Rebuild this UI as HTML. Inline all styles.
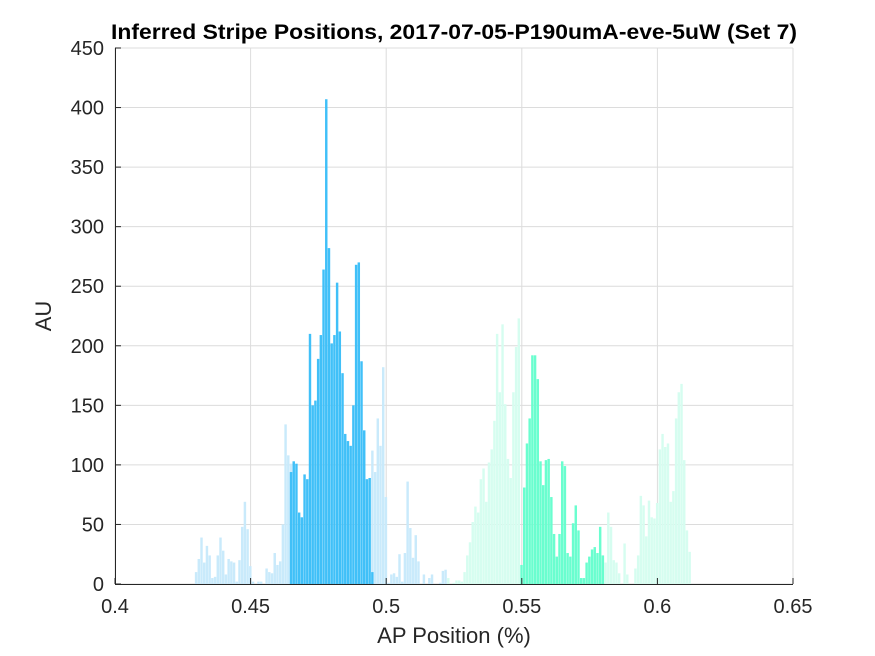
<!DOCTYPE html>
<html><head><meta charset="utf-8"><style>
html,body{margin:0;padding:0;background:#fff;}
svg{display:block;font-family:"Liberation Sans",Arial,sans-serif;}
</style></head><body>
<svg id="chart" width="875" height="656" viewBox="0 0 875 656">
<rect width="875" height="656" fill="#fff"/>
<g id="grid"></g>
<g id="bars"></g>
<g id="axes"></g>
<text x="454" y="39" text-anchor="middle" font-size="21" font-weight="bold" fill="#000" textLength="686" lengthAdjust="spacingAndGlyphs">Inferred Stripe Positions, 2017-07-05-P190umA-eve-5uW (Set 7)</text>
<text x="454" y="643" text-anchor="middle" font-size="22" fill="#262626">AP Position (%)</text>
<text transform="translate(51,316) rotate(-90)" text-anchor="middle" font-size="22" fill="#262626">AU</text>
</svg>
<script>
const xTicks = [0.4, 0.45, 0.5, 0.55, 0.6, 0.65];
const xTickLabels = ["0.4", "0.45", "0.5", "0.55", "0.6", "0.65"];
const yTicks = [0, 50, 100, 150, 200, 250, 300, 350, 400, 450];
const binWidth = 0.001;
const blueLightStart = 0.4299;
const blueLightValues = [10,21,39,18,32,24,5,6,24,39,28,8,21,19,18,2,20,48,69,46,15,2,0,2,2,0,13,10,9,26,16,19,50,134,108,101,0,0,0,0,0,0,0,0,0,0,0,0,0,0,0,0,0,0,0,0,0,0,0,0,0,0,0,0,0,112,94,139,116,182,73,1,8,9,6,25,2,26,86,47,22,41,19,0,8,0,5,8,0,0,1,11,12];
const blueDarkStart = 0.4649;
const blueDarkValues = [94,103,101,60,56,92,88,210,150,154,189,209,264,407,282,202,209,253,212,177,126,120,116,150,268,270,187,129,88,89,10];
const greenLightStartA = 0.5229;
const greenLightValuesA = [5,0,1,3,3,2,10,24,35,52,65,60,88,97,69,102,113,137,210,161,218,151,105,89,161,199,223];
const greenLightStartB = 0.5809;
const greenLightValuesB = [18,60,48,20,18,9,0,34,8,0,0,13,24,74,66,40,70,56,55,68,113,126,115,118,69,78,139,161,168,104,45,27];
const greenDarkStart = 0.5499;
const greenDarkValues = [16,81,118,139,192,192,172,103,83,104,105,73,42,23,42,103,99,26,23,51,66,45,5,5,18,23,29,31,26,48,24];

const L=115,R=793,T=48,B=584;
const xMin=0.4,xMax=0.65,yMin=0,yMax=450;
function xs(v){return L+(v-xMin)/(xMax-xMin)*(R-L);}
function ys(v){return B-(v-yMin)/(yMax-yMin)*(B-T);}
const NS="http://www.w3.org/2000/svg";
function mk(tag,attrs,parent){const e=document.createElementNS(NS,tag);for(const k in attrs)e.setAttribute(k,attrs[k]);parent.appendChild(e);return e;}
const grid=document.getElementById('grid'),bars=document.getElementById('bars'),axes=document.getElementById('axes');

xTicks.forEach((t,i)=>{
  const g=mk('line',{x1:xs(t),x2:xs(t),y1:T,y2:B,stroke:'#dcdcdc','stroke-width':1},grid);
  
  
  const tk=mk('line',{x1:xs(t),x2:xs(t),y1:B,y2:B-6,stroke:'#262626','stroke-width':1},axes);
  
  
  const lb=mk('text',{x:xs(t),y:B+29,'text-anchor':'middle','font-size':20,fill:'#262626'},axes);
  lb.textContent=xTickLabels[i];
  
  
});
yTicks.forEach(t=>{
  const g=mk('line',{x1:L,x2:R,y1:ys(t),y2:ys(t),stroke:'#dcdcdc','stroke-width':1},grid);
  
  
  const tk=mk('line',{x1:L,x2:L+6,y1:ys(t),y2:ys(t),stroke:'#262626','stroke-width':1},axes);
  
  
  const lb=mk('text',{x:L-11,y:ys(t)+7,'text-anchor':'end','font-size':20,fill:'#262626'},axes);
  lb.textContent=String(t);
  
  
});

function drawSeries(start,values,color,name){
  values.forEach((v,i)=>{
    if(v<=0)return;
    const c=start+i*binWidth;
    const x0=xs(c-binWidth*0.45),x1=xs(c+binWidth*0.45);
    const r=mk('rect',{x:x0,y:ys(v),width:x1-x0,height:ys(0)-ys(v),fill:color},bars);
    
    
  });
}
drawSeries(blueLightStart,blueLightValues,'#c9eafb','bar-blue-light');
drawSeries(blueDarkStart,blueDarkValues,'#40c0f8','bar-blue');
drawSeries(greenLightStartA,greenLightValuesA,'#d6fdf0','bar-green-light');
drawSeries(greenLightStartB,greenLightValuesB,'#d6fdf0','bar-green-light');
drawSeries(greenDarkStart,greenDarkValues,'#6afecf','bar-green');

const xa=mk('line',{x1:L,x2:R,y1:B+0.5,y2:B+0.5,stroke:'#262626','stroke-width':1},axes);


const ya=mk('line',{x1:L+0.5,x2:L+0.5,y1:T,y2:B,stroke:'#262626','stroke-width':1},axes);


</script>
</body></html>
